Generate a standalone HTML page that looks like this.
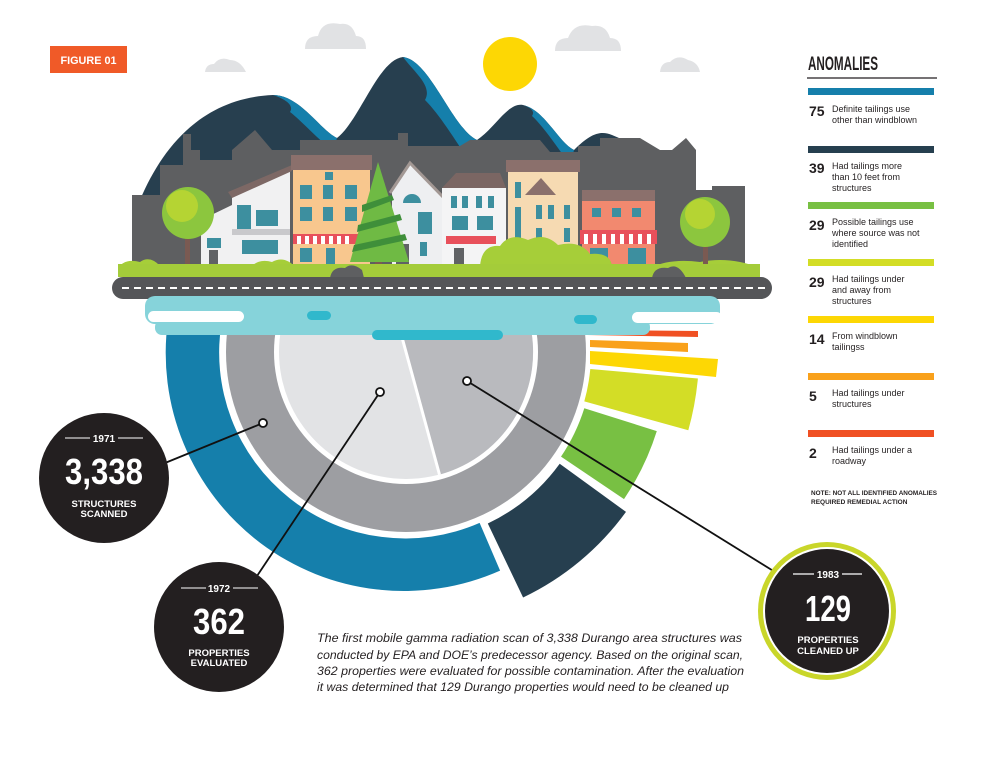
<!DOCTYPE html>
<html><head><meta charset="utf-8"><style>
html,body{margin:0;padding:0;background:#fff;}
svg{display:block;}
text{font-family:"Liberation Sans",sans-serif;}
.nar{font-family:"Liberation Sans Narrow","Liberation Sans",sans-serif;font-weight:bold;}
</style></head><body>
<svg width="986" height="767" viewBox="0 0 986 767" xmlns="http://www.w3.org/2000/svg">
<defs><clipPath id="cl"><rect x="0" y="322" width="986" height="445"/></clipPath></defs>
<rect width="986" height="767" fill="#fff"/>
<rect x="50" y="46" width="77" height="27" fill="#f05a28"/>
<text x="88.5" y="64" class="nar" font-size="11" fill="#fff" text-anchor="middle" textLength="56" lengthAdjust="spacingAndGlyphs">FIGURE 01</text>
<g fill="#e1e2e4">
<path d="M305,49 Q305,36 318,36 Q322,20 340,24 Q352,22 356,36 Q366,36 366,49Z"/>
<path d="M555,51 Q555,38 568,38 Q574,22 592,26 Q606,24 610,38 Q621,38 621,51Z"/>
<path d="M205,72 Q206,64 214,64 Q220,56 230,60 Q240,60 246,72Z"/>
<path d="M660,72 Q661,62 670,62 Q678,54 688,60 Q698,62 700,72Z"/>
</g>
<circle cx="510" cy="64" r="27" fill="#fdd704"/>
<path d="M138,205 C160,150 200,98 273,95 C300,95 320,130 337,138 C360,120 378,60 403,57 C430,60 452,128 477,140 C495,128 508,102 523,105 C545,110 558,142 574,150 C590,134 600,130 612,135 C630,142 645,152 655,165 L655,260 L138,260 Z" fill="#273f4f"/>
<g fill="#157fab">
<path d="M273,95 C300,95 320,130 337,138 L333,150 C318,140 303,122 290,112 C295,104 282,98 273,95Z"/>
<path d="M403,57 C430,60 452,128 477,140 L472,165 C455,140 440,115 425,100 C433,86 414,72 403,57Z"/>
<path d="M523,105 C545,110 558,142 574,150 L570,165 C556,145 542,125 532,116 C536,110 528,107 523,105Z"/>
</g>
<path d="M132,265 L132,195 L160,195 L160,165 L183,165 L183,134 L191,134 L191,150 L200,150 L200,160 L232,160 L232,150 L255,130 L272,150 L300,150 L300,140 L398,140 L398,133 L408,133 L408,146 L460,146 L470,140 L540,140 L550,152 L578,152 L578,146 L600,146 L600,138 L640,138 L660,150 L672,150 L686,138 L696,150 L696,190 L712,190 L712,186 L745,186 L745,265 Z" fill="#5e5f61"/>
<polygon points="232,195 290,170 290,265 201,265 201,220 232,205" fill="#f1f1f2"/>
<polygon points="228,192 292,165 292,171 232,198" fill="#7d6865"/>
<rect x="237" y="205" width="14" height="24" fill="#3d8f9f"/><rect x="256" y="210" width="22" height="16" fill="#3d8f9f"/>
<rect x="232" y="229" width="58" height="6" fill="#c9c9cc"/>
<rect x="242" y="240" width="36" height="14" fill="#3d8f9f"/><rect x="207" y="238" width="14" height="10" fill="#3d8f9f"/><rect x="209" y="250" width="9" height="15" fill="#606265"/>
<rect x="293" y="157" width="77" height="108" fill="#f8c78e"/>
<rect x="291" y="155" width="81" height="15" fill="#8b706c"/>
<g fill="#3d8f9f"><rect x="300" y="185" width="12" height="14"/><rect x="323" y="185" width="10" height="14"/><rect x="345" y="185" width="12" height="14"/><rect x="300" y="207" width="12" height="14"/><rect x="323" y="207" width="10" height="14"/><rect x="345" y="207" width="12" height="14"/><rect x="325" y="172" width="8" height="8"/><rect x="300" y="248" width="12" height="14"/><rect x="326" y="248" width="9" height="17"/></g>
<rect x="293" y="234" width="77" height="10" fill="#e8505b"/>
<g fill="#fff"><rect x="297" y="236" width="4" height="8"/><rect x="305" y="236" width="4" height="8"/><rect x="313" y="236" width="4" height="8"/><rect x="321" y="236" width="4" height="8"/><rect x="329" y="236" width="4" height="8"/><rect x="337" y="236" width="4" height="8"/><rect x="345" y="236" width="4" height="8"/></g>
<polygon points="392,190 410,163 442,195 442,265 392,265" fill="#eeeff1"/>
<polyline points="390,193 410,163 444,198" fill="none" stroke="#a39894" stroke-width="3"/>
<path d="M403,203 A9,9 0 0 1 421,203 Z" fill="#3d8f9f"/><rect x="418" y="212" width="14" height="22" fill="#3d8f9f"/><rect x="420" y="242" width="7" height="14" fill="#3d8f9f"/><rect x="396" y="244" width="13" height="21" fill="#606265"/>
<polygon points="442,188 456,173 500,173 506,188" fill="#7b6663"/>
<rect x="442" y="188" width="64" height="77" fill="#f4f4f5"/>
<g fill="#3d8f9f"><rect x="451" y="196" width="6" height="12"/><rect x="462" y="196" width="6" height="12"/><rect x="476" y="196" width="6" height="12"/><rect x="488" y="196" width="6" height="12"/><rect x="452" y="216" width="16" height="14"/><rect x="477" y="216" width="16" height="14"/></g>
<rect x="446" y="236" width="50" height="8" fill="#e8505b"/>
<rect x="454" y="248" width="10" height="17" fill="#606265"/>
<rect x="508" y="160" width="70" height="105" fill="#f6dab2"/>
<rect x="506" y="160" width="74" height="12" fill="#8b706c"/>
<polygon points="525,195 541,178 556,195" fill="#8b706c"/>
<g fill="#3d8f9f"><rect x="515" y="182" width="6" height="16"/><rect x="515" y="207" width="6" height="40"/><rect x="536" y="205" width="6" height="14"/><rect x="548" y="205" width="6" height="14"/><rect x="564" y="205" width="6" height="14"/><rect x="536" y="228" width="6" height="14"/><rect x="564" y="228" width="6" height="14"/></g>
<rect x="582" y="190" width="73" height="75" fill="#f2896f"/>
<rect x="582" y="190" width="73" height="11" fill="#8b706c"/>
<g fill="#3d8f9f"><rect x="592" y="208" width="9" height="9"/><rect x="612" y="208" width="9" height="9"/><rect x="632" y="208" width="9" height="9"/><rect x="590" y="248" width="18" height="16"/><rect x="628" y="248" width="18" height="16"/></g>
<rect x="580" y="230" width="77" height="14" fill="#e8505b"/>
<g fill="#fff"><rect x="584" y="234" width="4" height="10"/><rect x="593" y="234" width="4" height="10"/><rect x="602" y="234" width="4" height="10"/><rect x="611" y="234" width="4" height="10"/><rect x="620" y="234" width="4" height="10"/><rect x="629" y="234" width="4" height="10"/><rect x="638" y="234" width="4" height="10"/><rect x="647" y="234" width="4" height="10"/></g>
<g fill="#a6ce39">
<path d="M480,266 Q482,244 500,246 Q510,232 528,240 Q545,232 558,245 Q580,240 590,254 Q610,252 612,266Z"/>
<path d="M118,268 Q125,258 140,262 Q150,255 160,266Z"/>
<path d="M250,268 Q258,258 272,262 Q285,255 296,268Z"/>
<path d="M650,268 Q670,258 700,262 Q730,256 760,268Z"/>
</g>
<rect x="185" y="220" width="5" height="50" fill="#7a5a52"/>
<circle cx="188" cy="213" r="26" fill="#8cc63e"/><circle cx="182" cy="206" r="16" fill="#b5d433"/>
<rect x="703" y="225" width="5" height="45" fill="#7a5a52"/>
<circle cx="705" cy="222" r="25" fill="#8cc63e"/><circle cx="700" cy="214" r="15" fill="#b5d433"/>
<rect x="375" y="250" width="7" height="28" fill="#7a5a52"/>
<polygon points="378,162 409,262 350,262" fill="#6fba44"/>
<g fill="#3f8f3a"><polygon points="362,205 392,195 394,200 362,212"/><polygon points="358,225 400,214 402,220 357,232"/><polygon points="354,245 405,234 407,240 352,252"/></g>
<rect x="118" y="264" width="642" height="13" fill="#a4cc3a"/>
<path d="M330,278 Q332,266 345,268 Q352,262 362,270 L364,278Z" fill="#5e5f61"/>
<path d="M652,278 Q654,266 668,268 Q678,262 686,278Z" fill="#5e5f61"/>
<rect x="112" y="277" width="660" height="22" rx="11" fill="#545558"/>
<line x1="122" y1="288" x2="765" y2="288" stroke="#fff" stroke-width="2" stroke-dasharray="7,5"/>
<!-- chart (clipped below river) -->
<g clip-path="url(#cl)">
<circle cx="406" cy="352" r="180" fill="#9d9ea2"/>
<circle cx="406" cy="352" r="132" fill="#fff"/>
<circle cx="406" cy="352" r="127" fill="#e2e3e5"/>
<path d="M406,352 L372.5,229.4 A127 127 0 0 1 439.5,474.6 Z" fill="#b9babe"/>
<line x1="372.5" y1="229.4" x2="439.5" y2="474.6" stroke="#fff" stroke-width="3"/>
<path d="M168,320 A238 238 0 0 0 500.1,570.6 L479.6,522.9 A186 186 0 0 1 222,320 Z" fill="#157fab"/>
</g>
<path d="M626,511.9 A272 272 0 0 1 523.1,597.5 L487.8,523.5 A190 190 0 0 0 559.7,463.7 Z" fill="#263f4f"/>
<path d="M656.8,431.1 A263 263 0 0 1 624,499.1 L561,456.6 A187 187 0 0 0 584.3,408.2 Z" fill="#78c043"/>
<path d="M697.9,378.5 A293 293 0 0 1 688.3,430.3 L584.3,401.4 A185 185 0 0 0 590.3,369 Z" fill="#d3dd26"/>
<polygon points="590,351 718,359 716,377 590,364" fill="#fdd704"/>
<polygon points="590,340 688,343 688,352 590,347" fill="#f9a11b"/>
<polygon points="587,330 698,331 698,337 587,335" fill="#f05023"/>
<rect x="145" y="296" width="575" height="28" rx="10" fill="#86d3da"/>
<rect x="155" y="320" width="495" height="15" rx="7" fill="#86d3da"/>
<rect x="148" y="311" width="96" height="11" rx="5.5" fill="#fff"/>
<rect x="632" y="312" width="90" height="11" rx="5.5" fill="#fff"/>
<rect x="307" y="311" width="24" height="9" rx="4.5" fill="#30b8cc"/>
<rect x="574" y="315" width="23" height="9" rx="4.5" fill="#30b8cc"/>
<rect x="372" y="330" width="131" height="10" rx="5" fill="#30b8cc"/>
<g stroke="#111" stroke-width="1.8" fill="none">
<line x1="165" y1="463" x2="263" y2="423"/>
<line x1="257" y1="576" x2="380" y2="392"/>
<line x1="467" y1="381" x2="775" y2="572"/>
</g>
<g fill="#fff" stroke="#111" stroke-width="1.8">
<circle cx="263" cy="423" r="4"/><circle cx="380" cy="392" r="4"/><circle cx="467" cy="381" r="4"/>
</g>
<g>
<circle cx="104" cy="478" r="65" fill="#231f20"/>
<line x1="65" y1="438" x2="90" y2="438" stroke="#fff" stroke-width="1"/><line x1="118" y1="438" x2="143" y2="438" stroke="#fff" stroke-width="1"/>
<text x="104" y="442" font-size="10" font-weight="bold" fill="#fff" text-anchor="middle">1971</text>
<text x="104" y="484" class="nar" font-size="36" fill="#fff" text-anchor="middle" textLength="78" lengthAdjust="spacingAndGlyphs">3,338</text>
<text x="104" y="507" font-size="9.5" font-weight="bold" fill="#fff" text-anchor="middle">STRUCTURES</text>
<text x="104" y="517" font-size="9.5" font-weight="bold" fill="#fff" text-anchor="middle">SCANNED</text>
</g>
<g>
<circle cx="219" cy="627" r="65" fill="#231f20"/>
<line x1="181" y1="588" x2="206" y2="588" stroke="#fff" stroke-width="1"/><line x1="233" y1="588" x2="258" y2="588" stroke="#fff" stroke-width="1"/>
<text x="219" y="592" font-size="10" font-weight="bold" fill="#fff" text-anchor="middle">1972</text>
<text x="219" y="634" class="nar" font-size="36" fill="#fff" text-anchor="middle" textLength="52" lengthAdjust="spacingAndGlyphs">362</text>
<text x="219" y="656" font-size="9.5" font-weight="bold" fill="#fff" text-anchor="middle">PROPERTIES</text>
<text x="219" y="666" font-size="9.5" font-weight="bold" fill="#fff" text-anchor="middle">EVALUATED</text>
</g>
<g>
<circle cx="827" cy="611" r="69" fill="#c9d62a"/>
<circle cx="827" cy="611" r="64" fill="#fff"/>
<circle cx="827" cy="611" r="62" fill="#231f20"/>
<line x1="793" y1="574" x2="814" y2="574" stroke="#fff" stroke-width="1.2"/><line x1="842" y1="574" x2="862" y2="574" stroke="#fff" stroke-width="1.2"/>
<text x="828" y="578" font-size="10" font-weight="bold" fill="#fff" text-anchor="middle">1983</text>
<text x="828" y="621" class="nar" font-size="36" fill="#fff" text-anchor="middle" textLength="46" lengthAdjust="spacingAndGlyphs">129</text>
<text x="828" y="643" font-size="9.5" font-weight="bold" fill="#fff" text-anchor="middle">PROPERTIES</text>
<text x="828" y="654" font-size="9.5" font-weight="bold" fill="#fff" text-anchor="middle">CLEANED UP</text>
</g>
<g font-size="11.5" font-style="italic" fill="#231f20">
<text x="317" y="642" textLength="425" lengthAdjust="spacingAndGlyphs">The first mobile gamma radiation scan of 3,338 Durango area structures was</text>
<text x="317" y="659" textLength="426" lengthAdjust="spacingAndGlyphs">conducted by EPA and DOE’s predecessor agency. Based on the original scan,</text>
<text x="317" y="675" textLength="427" lengthAdjust="spacingAndGlyphs">362 properties were evaluated for possible contamination. After the evaluation</text>
<text x="317" y="691" textLength="412" lengthAdjust="spacingAndGlyphs">it was determined that 129 Durango properties would need to be cleaned up</text>
</g>
<text x="808" y="70" class="nar" font-size="19" fill="#231f20" textLength="70" lengthAdjust="spacingAndGlyphs">ANOMALIES</text>
<line x1="807" y1="78" x2="937" y2="78" stroke="#231f20" stroke-width="1.2"/>
<rect x="808" y="88" width="126" height="7" fill="#157fab"/>
<rect x="808" y="146" width="126" height="7" fill="#263f4f"/>
<rect x="808" y="202" width="126" height="7" fill="#78c043"/>
<rect x="808" y="259" width="126" height="7" fill="#d3dd26"/>
<rect x="808" y="316" width="126" height="7" fill="#fdd704"/>
<rect x="808" y="373" width="126" height="7" fill="#f9a11b"/>
<rect x="808" y="430" width="126" height="7" fill="#f05023"/>
<g class="nar" font-size="14" fill="#231f20">
<text x="809" y="116">75</text><text x="809" y="173">39</text><text x="809" y="230">29</text><text x="809" y="287">29</text><text x="809" y="344">14</text><text x="809" y="401">5</text><text x="809" y="458">2</text>
</g>
<g font-size="9" fill="#231f20">
<text x="832" y="112">Definite tailings use</text><text x="832" y="123">other than windblown</text>
<text x="832" y="169">Had tailings more</text><text x="832" y="180">than 10 feet from</text><text x="832" y="191">structures</text>
<text x="832" y="225">Possible tailings use</text><text x="832" y="236">where source was not</text><text x="832" y="247">identified</text>
<text x="832" y="282">Had tailings under</text><text x="832" y="293">and away from</text><text x="832" y="304">structures</text>
<text x="832" y="339">From windblown</text><text x="832" y="350">tailingss</text>
<text x="832" y="396">Had tailings under</text><text x="832" y="407">structures</text>
<text x="832" y="453">Had tailings under a</text><text x="832" y="464">roadway</text>
</g>
<g font-size="6.5" font-weight="bold" fill="#231f20">
<text x="811" y="495" textLength="126" lengthAdjust="spacingAndGlyphs">NOTE: NOT ALL IDENTIFIED ANOMALIES</text>
<text x="811" y="504">REQUIRED REMEDIAL ACTION</text>
</g>
</svg>
</body></html>
